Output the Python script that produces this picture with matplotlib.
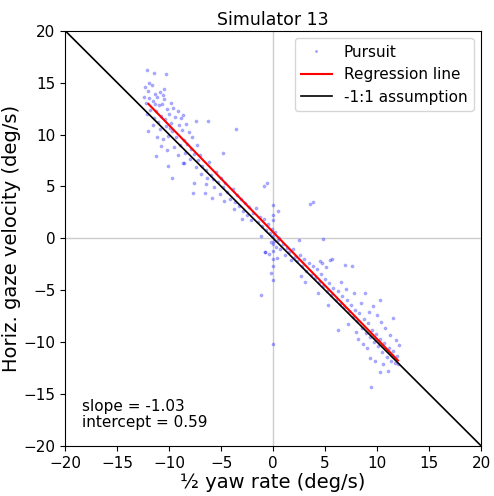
import numpy as np
import matplotlib.pyplot as plt

# pursuit samples (half yaw rate, horizontal gaze velocity)
pursuit_x = [
    -12.1, -11.5, -10.3, -12.3, -12.0, -11.7, -11.4, -11.9, -12.2, -11.6, -11.2, -10.9, -11.0, -11.8,
    -12.1, -11.3, -10.7, -10.5, -10.2, -10.8, -11.5, -11.1, -10.4, -10.0, -9.8, -10.3, -10.9, -11.6,
    -9.6, -9.4, -9.1, -9.7, -10.1, -10.6, -11.2, -12.0, -9.3, -8.8, -8.9, -8.6, -9.0, -9.5, -10.2,
    -10.8, -8.3, -8.1, -7.9, -8.5, -9.2, -11.3, -10.1, -9.7, -8.7, -8.0, -7.6, -7.3, -7.8, -9.9,
    -10.6, -11.4, -12.4, -11.9, -10.5, -9.8, -9.2, -8.7, -8.4, -7.4, -6.3, -3.6,
    -7.2, -7.0, -6.8, -6.5, -6.9, -7.4, -6.2, -6.0, -5.8, -6.4, -5.5, -5.3, -5.7, -5.0, -4.8, -5.1,
    -4.6, -4.4, -4.2, -4.7, -3.9, -3.7, -3.5, -3.3, -3.8, -3.1, -2.9, -2.7, -2.5, -3.0, -2.3, -2.1,
    -6.6, -7.7, -5.9, -4.8, -6.5, -7.6, -8.6,
    -1.9, -1.7, -1.5, -1.3, -1.1, -0.9, -0.7, -0.5, -0.3, -0.1, 0.0, 0.0, 0.0, 0.0, 0.0, 0.0, 0.1,
    0.2, 0.3, 0.5, 0.7, 0.9, 1.1, 1.3, 1.5, 1.7, 1.9, 2.1, -0.2, -0.4, -0.8, -1.2, 0.0, 0.5, -0.6,
    -0.9, 0.0, 0.0, 0.0, -1.2, -0.2, 0.4, 2.5, 0.6, -0.8,
    2.3, 2.6, 2.8, 3.0, 3.2, 3.4, 3.6, 3.8, 4.0, 4.2, 4.4, 4.6, 4.8, 5.0, 5.2, 5.4, 5.6, 5.8, 6.0,
    6.2, 6.4, 6.6, 6.8, 3.5, 3.8, 4.8, 5.7, 6.2, 3.1, 4.3, 5.3, 2.7, 6.5, 5.1, 4.5, 7.0,
    7.1, 7.3, 7.5, 7.7, 7.9, 8.1, 8.3, 8.5, 8.7, 8.9, 9.1, 9.3, 9.5, 9.7, 9.9, 10.1, 10.3, 10.5,
    10.7, 10.9, 11.1, 11.3, 11.5, 11.7, 11.9, 12.1, 11.5, 10.3, 8.8, 9.3, 10.3, 9.4, 8.2, 7.6, 6.9,
    5.5, 4.7, 9.6, 10.0, 8.4, 10.8, 11.2, 9.0, 8.0, 10.6, 11.0, 9.8, 7.2, 7.8, 8.6, 9.2, 10.4, 11.8,
    12.0,
]
pursuit_y = [
    16.2, 15.9, 15.8, 14.6, 14.2, 14.8, 13.9, 13.5, 13.0, 13.2, 13.6, 14.1, 12.8, 12.4,
    12.0, 12.3, 12.9, 13.4, 12.5, 11.8, 11.6, 11.2, 11.5, 12.0, 11.1, 10.8, 10.5, 10.9,
    12.6, 11.7, 10.9, 10.3, 9.9, 9.6, 9.8, 10.3, 9.8, 10.4, 11.6, 9.5, 9.0, 8.8, 8.5,
    8.9, 9.1, 10.2, 8.6, 8.2, 8.0, 7.9, 7.0, 5.8, 7.3, 7.6, 8.1, 9.0, 9.8, 10.6,
    13.8, 12.9, 13.6, 15.0, 14.4, 13.0, 12.3, 11.9, 11.0, 11.3, 11.3, 10.5,
    7.5, 8.0, 7.0, 6.6, 6.2, 6.9, 7.4, 6.1, 5.7, 5.8, 6.4, 5.4, 4.9, 5.8, 4.9, 4.3,
    5.3, 4.5, 3.8, 3.6, 4.8, 3.5, 4.2, 3.1, 2.8, 3.8, 2.6, 3.4, 2.2, 1.9, 3.0, 1.8,
    4.4, 4.4, 3.9, 8.2, 5.2, 5.3, 7.3,
    2.4, 2.9, 1.6, 2.1, 1.2, 1.9, 0.8, 1.4, 0.5, 0.9, 1.8, 2.2, 0.2, -0.5, -1.2, -2.0, -0.3,
    0.6, -0.8, -0.2, -1.0, -0.5, -1.6, -0.9, -1.3, -2.1, -1.0, -1.8, -0.4, -1.5, -1.3, 0.2, 3.2, 2.6, 5.3,
    5.0, -2.7, -4.0, -10.2, -5.5, -3.3, -1.9, -0.2, 0.0, -1.3,
    -2.2, -1.6, -2.7, -2.0, -3.1, -2.4, -3.5, -2.7, -3.8, -3.0, -4.2, -3.4, -4.6, -3.9, -5.1, -4.3, -5.5, -4.8, -5.9,
    -5.1, -6.3, -5.6, -6.6, 3.3, 3.5, -0.1, -2.0, -8.8, -4.2, -5.3, -6.4, -3.6, -4.2, -2.8, -2.2, -4.9,
    -5.9, -7.0, -6.4, -7.6, -6.9, -8.0, -7.2, -8.6, -7.8, -9.1, -8.2, -9.5, -8.8, -10.0, -9.2, -10.4, -9.7, -11.0,
    -10.1, -11.4, -10.6, -11.8, -10.9, -12.0, -11.3, -10.3, -7.7, -5.9, -5.3, -11.5, -12.9, -14.3, -9.7, -2.7, -2.6,
    -2.1, -2.4, -6.5, -7.4, -6.2, -8.6, -9.3, -10.6, -9.0, -12.1, -12.8, -11.8, -8.3, -5.3, -10.2, -7.1, -8.1, -9.8,
    -12.1,
]

slope = -1.03
intercept = 0.59
fit_range = [-12, 12]
unity_range = [-20, 20]

fig = plt.figure(figsize=(4.94, 4.96), dpi=100)
ax = fig.add_axes([0.132, 0.101, 0.842, 0.837])

ax.axhline(0, color='0.8', linewidth=1, zorder=0)
ax.axvline(0, color='0.8', linewidth=1, zorder=0)

ax.plot(pursuit_x, pursuit_y, '.', color='b', alpha=0.25, markersize=3.5, label='Pursuit')
fx = np.array(fit_range)
ax.plot(fx, slope * fx + intercept, color='r', linewidth=1.5, label='Regression line')
ux = np.array(unity_range)
ax.plot(ux, -ux, color='k', linewidth=1.2, label='-1:1 assumption')

ax.set_xlim(-20, 20)
ax.set_ylim(-20, 20)
ax.set_xticks(np.arange(-20, 21, 5))
ax.set_yticks(np.arange(-20, 21, 5))
ax.tick_params(labelsize=11)
ax.set_title('Simulator 13', fontsize=12.5, pad=4)
ax.set_xlabel('½ yaw rate (deg/s)', fontsize=14, labelpad=2)
ax.set_ylabel('Horiz. gaze velocity (deg/s)', fontsize=14, labelpad=2)

ax.text(0.04, 0.045, 'slope = %.2f\nintercept = %.2f' % (slope, intercept),
        transform=ax.transAxes, fontsize=11, linespacing=1.1)
ax.legend(loc='upper right', fontsize=11, markerscale=0.7)

fig.savefig('out.png', dpi=100)
